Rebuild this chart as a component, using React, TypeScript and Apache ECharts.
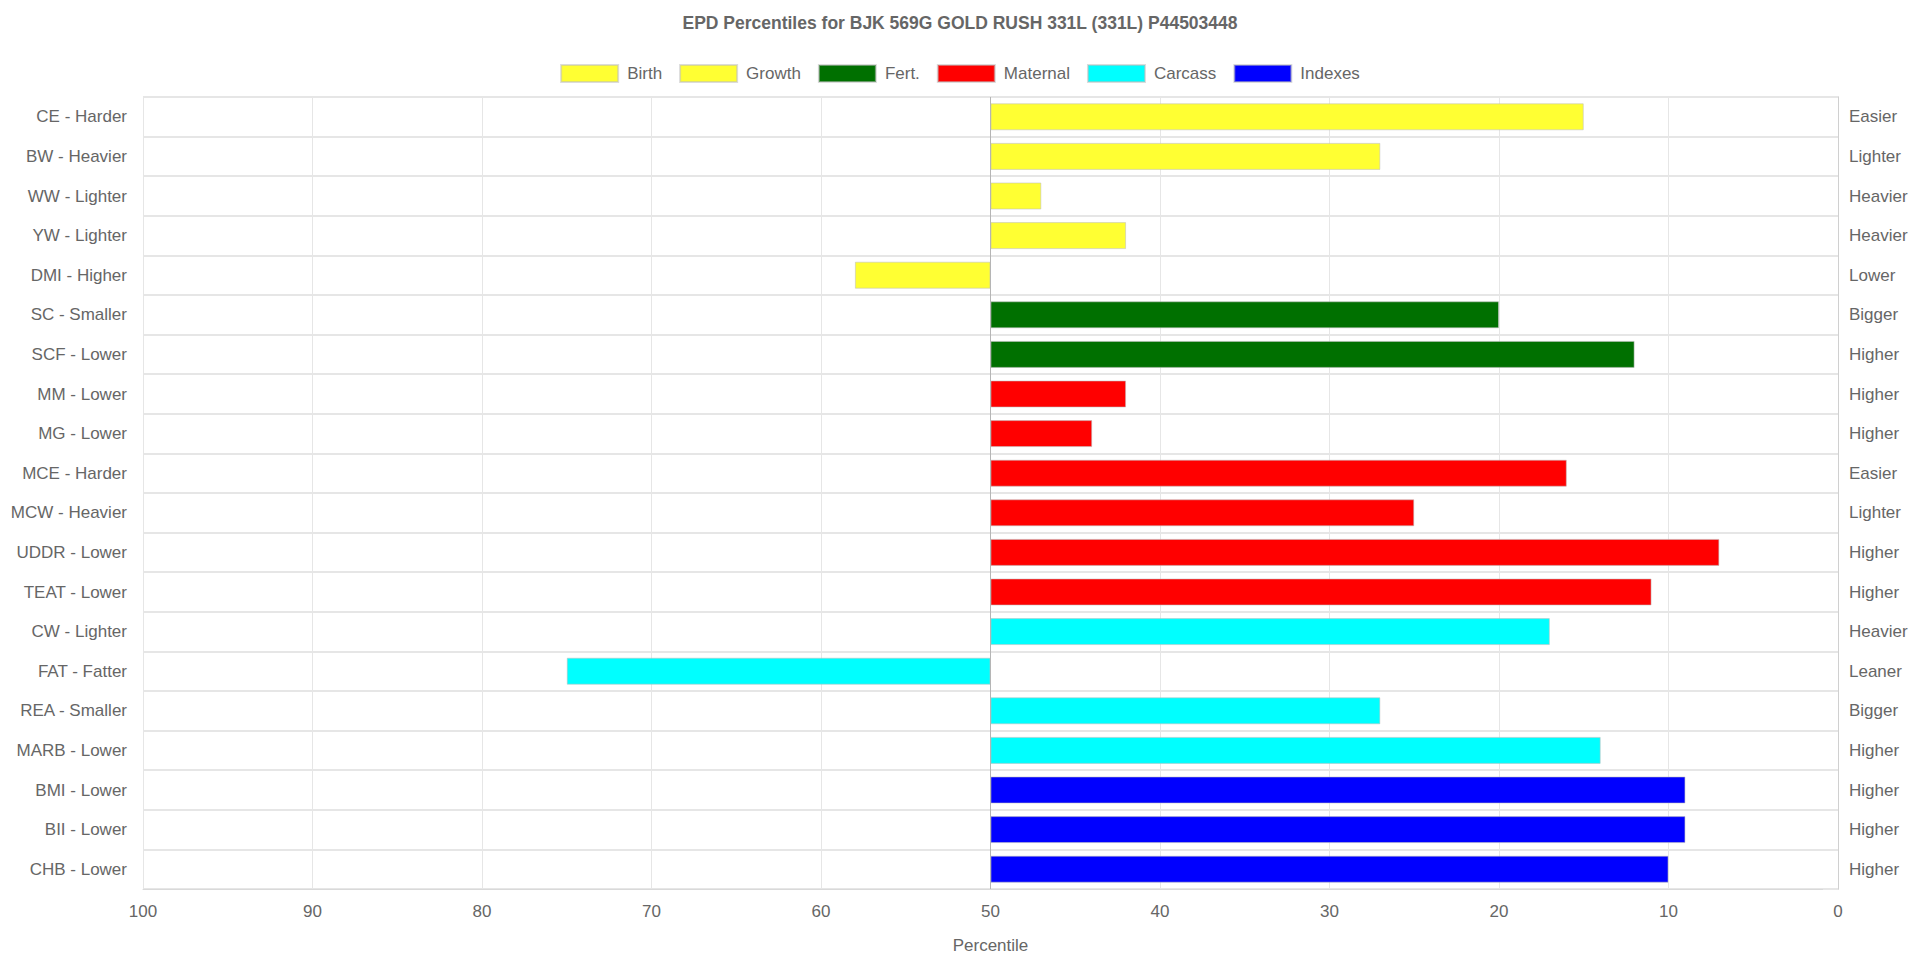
import React, { useEffect, useRef } from "react";
import * as echarts from "echarts";

const categories = [
  "CE - Harder", "BW - Heavier", "WW - Lighter", "YW - Lighter", "DMI - Higher",
  "SC - Smaller", "SCF - Lower", "MM - Lower", "MG - Lower", "MCE - Harder",
  "MCW - Heavier", "UDDR - Lower", "TEAT - Lower", "CW - Lighter", "FAT - Fatter",
  "REA - Smaller", "MARB - Lower", "BMI - Lower", "BII - Lower", "CHB - Lower",
];
const rightLabels = [
  "Easier", "Lighter", "Heavier", "Heavier", "Lower",
  "Bigger", "Higher", "Higher", "Higher", "Easier",
  "Lighter", "Higher", "Higher", "Heavier", "Leaner",
  "Bigger", "Higher", "Higher", "Higher", "Higher",
];
const percentiles = [15, 27, 47, 42, 58, 20, 12, 42, 44, 16, 25, 7, 11, 17, 75, 27, 14, 9, 9, 10];
const groupOf = [
  "Birth", "Birth", "Growth", "Growth", "Growth",
  "Fert.", "Fert.", "Maternal", "Maternal", "Maternal",
  "Maternal", "Maternal", "Maternal", "Carcass", "Carcass",
  "Carcass", "Carcass", "Indexes", "Indexes", "Indexes",
];
const groups = ["Birth", "Growth", "Fert.", "Maternal", "Carcass", "Indexes"];
const groupColors = ["#ffff33", "#ffff33", "#007000", "#ff0000", "#00ffff", "#0000ff"];
const xTicks = [0, 100, 10];
const baseline = 50;

const FONT = "'Liberation Sans', Arial, Helvetica, sans-serif";
const TEXT = "#666";

export default function App() {
  const ref = useRef<HTMLDivElement>(null);
  useEffect(() => {
    document.body.style.margin = "0";
    if (!ref.current) return;
    const chart = echarts.init(ref.current, null, { renderer: "svg" });
    const baseData = percentiles.map((v) => Math.min(v, baseline));
    const groupSeries = groups.map((g, gi) => ({
      name: g,
      type: "bar",
      stack: "epd",
      barWidth: 27,
      itemStyle: {
        color: groupColors[gi],
        borderColor: "rgba(190,190,190,0.55)",
        borderWidth: 1,
      },
      data: percentiles.map((v, i) => (groupOf[i] === g ? Math.abs(v - baseline) : "-")),
    }));
    chart.setOption({
      animation: false,
      textStyle: { fontFamily: FONT },
      title: {
        text: "EPD Percentiles for BJK 569G GOLD RUSH 331L (331L) P44503448",
        left: "center",
        top: 14,
        padding: 0,
        textStyle: { fontSize: 17.5, fontWeight: "bold", color: TEXT, fontFamily: FONT },
      },
      legend: {
        data: groups,
        top: 59,
        left: "center",
        icon: "rect",
        itemWidth: 57,
        itemHeight: 17,
        itemGap: 17,
        textStyle: { fontSize: 17, color: TEXT, fontFamily: FONT, padding: [0, 0, 0, 4] },
      },
      grid: { left: 143, right: 82, top: 97, bottom: 69, containLabel: false },
      xAxis: {
        type: "value",
        min: xTicks[0],
        max: xTicks[1],
        interval: xTicks[2],
        inverse: true,
        name: "Percentile",
        nameLocation: "middle",
        nameGap: 48,
        nameTextStyle: { fontSize: 17, color: TEXT, fontFamily: FONT },
        axisLine: { show: true, lineStyle: { color: "#d9d9d9" } },
        axisTick: { show: false },
        axisLabel: { fontSize: 17, color: TEXT, margin: 14, fontFamily: FONT },
        splitLine: { show: true, lineStyle: { color: "#e6e6e6" } },
      },
      yAxis: [
        {
          type: "category",
          data: categories,
          inverse: true,
          position: "left",
          axisLine: { show: true, lineStyle: { color: "#d0d0d0" } },
          axisTick: { show: true, length: 15, lineStyle: { color: "#e6e6e6" } },
          axisLabel: { fontSize: 17, color: TEXT, margin: 16, fontFamily: FONT },
          splitLine: { show: true, lineStyle: { color: "#e6e6e6", width: 2 } },
        },
        {
          type: "category",
          data: rightLabels,
          inverse: true,
          position: "right",
          axisLine: { show: true, lineStyle: { color: "#d0d0d0" } },
          axisTick: { show: false },
          axisLabel: { fontSize: 17, color: TEXT, margin: 11, fontFamily: FONT },
          splitLine: { show: false },
        },
      ],
      series: [
        {
          name: "base",
          type: "bar",
          stack: "epd",
          barWidth: 27,
          silent: true,
          itemStyle: { color: "transparent" },
          data: baseData,
          markLine: {
            silent: true,
            symbol: "none",
            label: { show: false },
            lineStyle: { color: "#b5b5b5", type: "solid", width: 1 },
            data: [{ xAxis: baseline }],
          },
        },
        ...groupSeries,
      ],
    });
    return () => chart.dispose();
  }, []);
  return <div ref={ref} style={{ width: 1920, height: 959 }} />;
}
